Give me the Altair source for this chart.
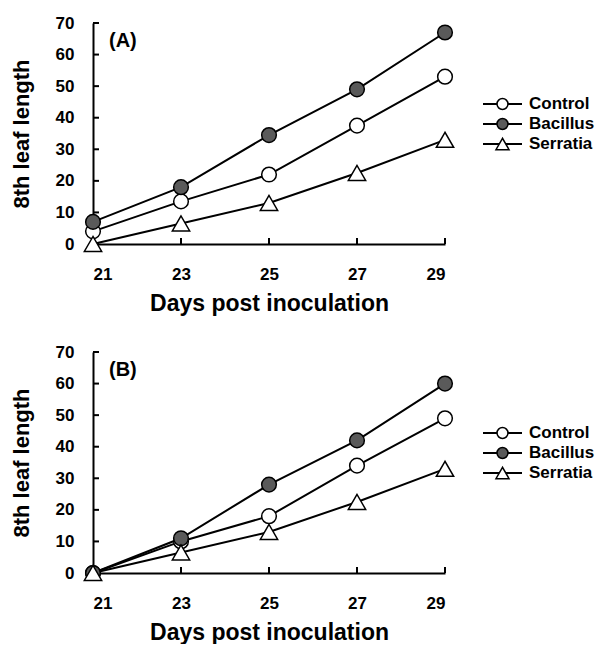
import altair as alt
import pandas as pd

days = [21, 23, 25, 27, 29]
series_order = ["Control", "Bacillus", "Serratia"]

# Panel A
a_control = [4, 13.5, 22, 37.5, 53]
a_bacillus = [7, 18, 34.5, 49, 67]
a_serratia = [0, 6.5, 13, 22.5, 33]

# Panel B
b_control = [0, 10, 18, 34, 49]
b_bacillus = [0, 11, 28, 42, 60]
b_serratia = [0, 6.5, 13, 22.5, 33]

y_ticks = [0, 10, 20, 30, 40, 50, 60, 70]

FONT = "Liberation Sans"
W, H = 352, 221
BAC_FILL = "#5a5a5a"


def make_df(c, b, s):
    rows = []
    for name, vals in zip(series_order, [c, b, s]):
        for d, v in zip(days, vals):
            rows.append({"day": d, "length": v, "series": name})
    return pd.DataFrame(rows)


def shape_of():
    return alt.condition(alt.datum.series == "Serratia", alt.value("triangle-up"), alt.value("circle"))


def fill_of():
    return alt.condition(alt.datum.series == "Bacillus", alt.value(BAC_FILL), alt.value("white"))


XS = alt.Scale(domain=[21, 29], zero=False, nice=False)
YS = alt.Scale(domain=[0, 70], nice=False)
XAX = alt.Axis(values=days, format="d", ticks=False, grid=False, labelPadding=22, titlePadding=10)
YAX = alt.Axis(values=y_ticks, ticks=False, grid=False, labelPadding=19, titlePadding=22)


def X():
    return alt.X("day:Q", scale=XS, axis=XAX, title="Days post inoculation")


def Y():
    return alt.Y("length:Q", scale=YS, axis=YAX, title="8th leaf length")


def panel(df, tag):
    base = alt.Chart(df)

    lines = base.mark_line(color="black", strokeWidth=2).encode(
        x=X(), y=Y(), detail="series:N"
    )

    # inward ticks
    xt = alt.Chart(pd.DataFrame({"day": days[1:]})).mark_rule(color="black", strokeWidth=2).encode(
        x=X(), y=alt.value(H - 6), y2=alt.value(H),
    )
    yt = alt.Chart(pd.DataFrame({"length": y_ticks})).mark_rule(color="black", strokeWidth=2).encode(
        y=Y(), x=alt.value(0), x2=alt.value(6),
    )

    points = base.mark_point(filled=True, stroke="black", strokeWidth=1.5, opacity=1).encode(
        x=X(), y=Y(),
        shape=shape_of(),
        fill=fill_of(),
        size=alt.condition(alt.datum.series == "Serratia", alt.value(300), alt.value(215)),
    )

    data_layer = alt.layer(lines, xt, yt, points)

    # legend drawn from the series list
    leg_base = alt.Chart(pd.DataFrame({"series": series_order}))
    ly = alt.Y("series:N", sort=series_order,
               scale=alt.Scale(domain=series_order, type="point", range=[81, 121], padding=0),
               axis=None)
    leg_line = leg_base.mark_rule(color="black", strokeWidth=2).encode(
        y=ly, x=alt.value(390), x2=alt.value(429)
    )
    leg_pt = leg_base.mark_point(filled=True, stroke="black", strokeWidth=1.5, opacity=1).encode(
        y=ly, x=alt.value(409.5),
        shape=shape_of(), fill=fill_of(),
        size=alt.condition(alt.datum.series == "Serratia", alt.value(170), alt.value(120)),
    )
    leg_txt = leg_base.mark_text(align="left", baseline="middle", font=FONT, fontSize=17,
                                 fontWeight="bold", color="black").encode(
        y=ly, x=alt.value(436), text="series:N"
    )
    legend_layer = alt.layer(leg_line, leg_pt, leg_txt)

    label = alt.Chart(pd.DataFrame({"tag": [tag]})).mark_text(
        align="left", baseline="middle", font=FONT,
        fontSize=20, fontWeight="bold", color="black"
    ).encode(text="tag:N", x=alt.value(16), y=alt.value(18))

    return alt.layer(data_layer, legend_layer, label).resolve_scale(
        y="independent"
    ).properties(width=W, height=H)


chart_a = panel(make_df(a_control, a_bacillus, a_serratia), "(A)")
chart_b = panel(make_df(b_control, b_bacillus, b_serratia), "(B)")

chart = alt.vconcat(chart_a, chart_b, spacing=28).properties(
    padding={"left": 2, "top": 6, "right": 0, "bottom": 0}
).configure_view(stroke=None).configure_axis(
    domainColor="black", domainWidth=2, tickColor="black", tickWidth=2,
    labelFont=FONT, labelFontSize=17, labelFontWeight="bold", labelColor="black",
    titleFont=FONT, titleFontSize=22, titleFontWeight="bold", titleColor="black",
).configure_axisX(titleFontSize=23)

chart.save("out.html", embed_options={"renderer": "svg", "actions": False})
